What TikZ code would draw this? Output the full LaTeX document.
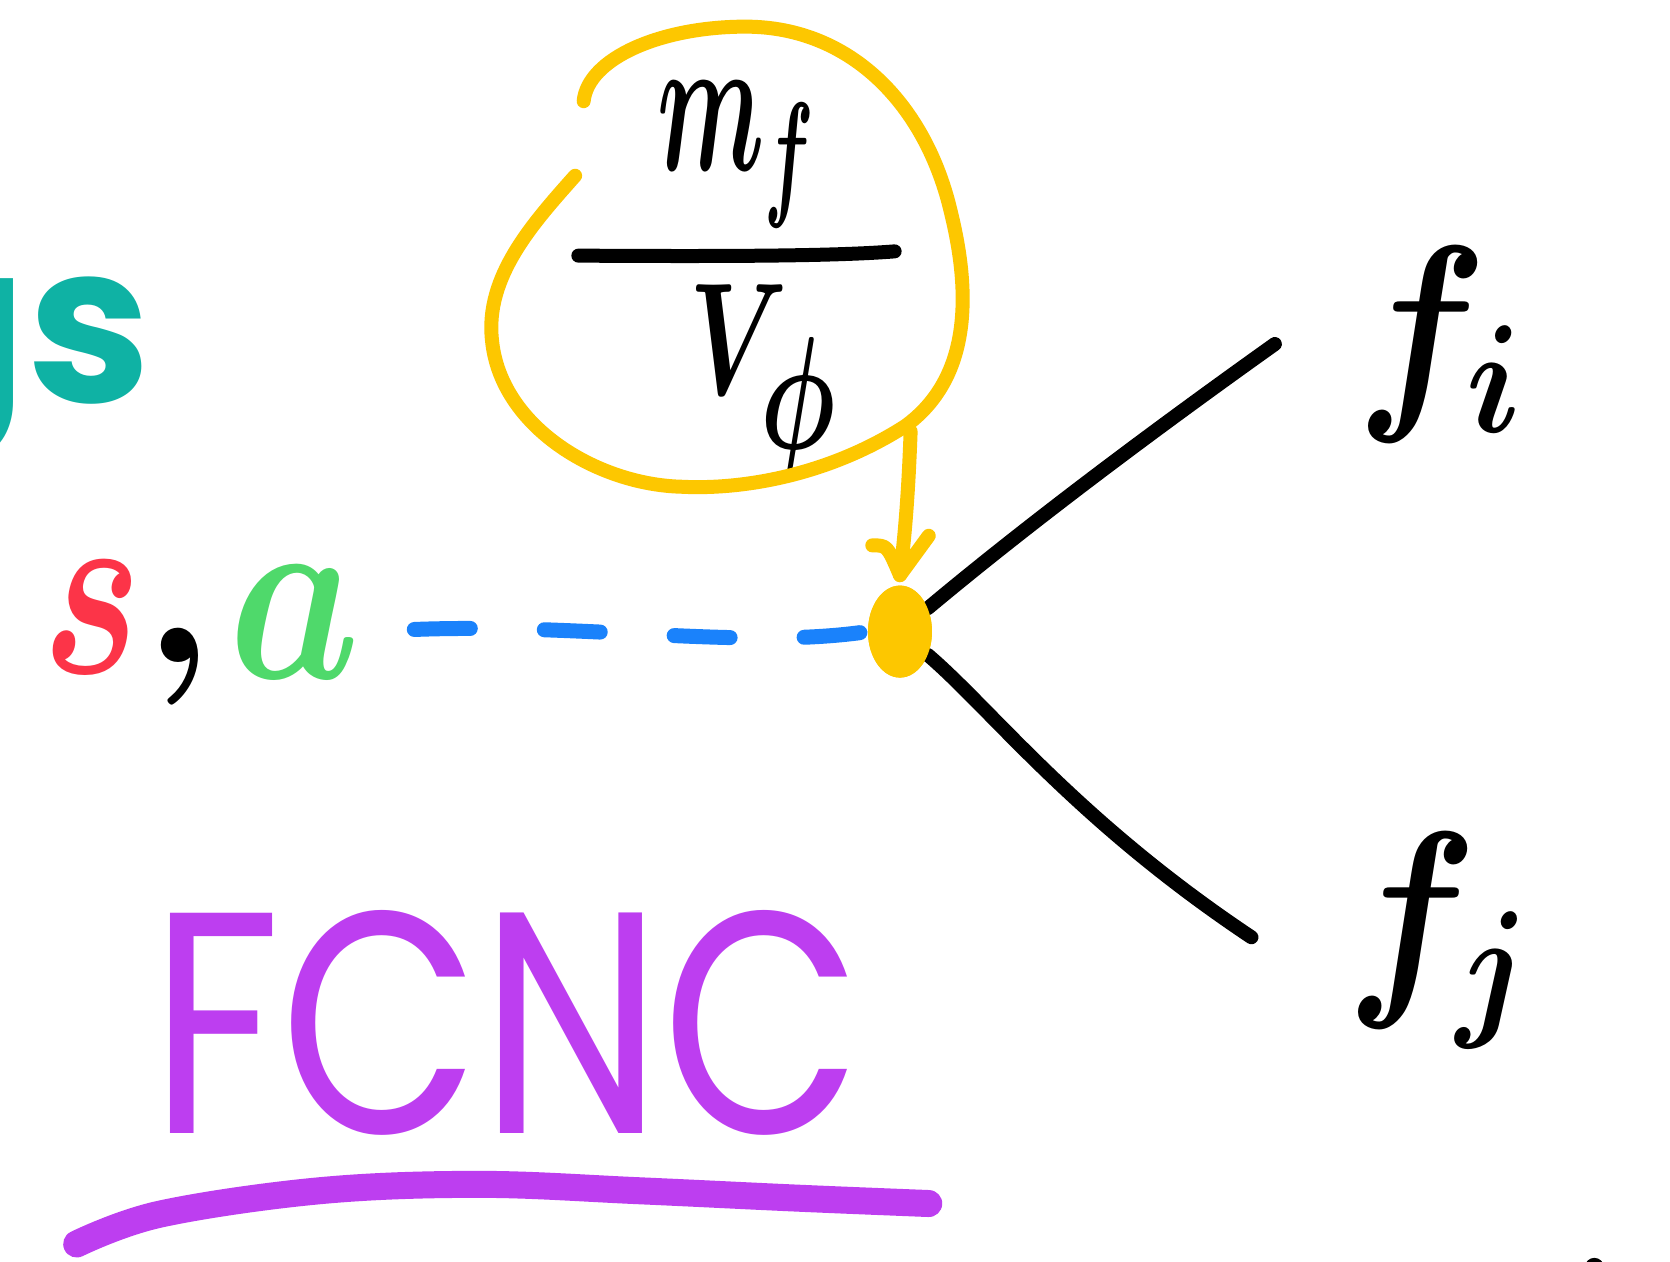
\RequirePackage{fix-cm}
\documentclass[tikz,border=0pt]{standalone}
\usepackage{graphicx}
\usepackage{fontspec}
\usetikzlibrary{shapes.geometric,calc}
\newfontfamily\handfont{Poppins}
\newfontfamily\logofont{Poppins}

\definecolor{hiyellow}{RGB}{253,199,0}
\definecolor{hiblue}{RGB}{26,130,251}
\definecolor{hired}{RGB}{252,52,72}
\definecolor{higreen}{RGB}{79,217,107}
\definecolor{hipurple}{RGB}{189,62,240}
\definecolor{logoteal}{RGB}{15,178,164}

\tikzset{
  txt/.style={inner sep=0pt, outer sep=0pt},
  inkline/.style={draw=black, line width=7pt, line cap=round, line join=round},
  loopline/.style={draw=hiyellow, line width=7pt, line cap=round, line join=round},
  scalarline/.style={draw=hiblue, line width=7.5pt, line cap=round, dash pattern=on 28pt off 37pt},
  vertexdot/.style={ellipse, fill=hiyellow, minimum width=32pt, minimum height=46pt, inner sep=0pt},
  crayon/.style={draw=hipurple, line width=13.5pt, line cap=round, line join=round},
  hand/.style={font=\boldmath\fontsize{#1}{#1}\selectfont},
}

\begin{document}
\begin{tikzpicture}[x=0.5325pt, y=-0.5325pt]
  \clip (0,0) rectangle (1568,1184);
  \fill[white] (0,0) rectangle (1568,1184);

  % logo fragment at the left edge
  \node[txt, anchor=base east, text=logoteal,
        font=\logofont\bfseries\fontsize{111}{111}\selectfont] (logo) at (142,378) {gs};

  % coupling m_f / v_phi, circled
  \node[txt, anchor=base west, hand=100] (num) at (617,160)
        {\scalebox{0.52}[1]{$m_f$}};
  \draw[inkline] (543,240) .. controls (700,241) and (790,240) .. (840,236);
  \node[txt, anchor=base west, hand=80] (den) at (647,370)
        {\scalebox{0.66}[1]{$V_{\textstyle\phi}$}};
  \draw[loopline] (548,95) .. controls (552,55) and (620,25) .. (700,25)
    .. controls (800,25) and (870,100) .. (893,200)
    .. controls (915,290) and (905,360) .. (850,400)
    .. controls (780,445) and (700,460) .. (640,457)
    .. controls (560,455) and (470,400) .. (462,320)
    .. controls (455,260) and (500,210) .. (540,165);

  % vertex
  \node[vertexdot] (v) at (845,593) {};

  % arrow from the coupling to the vertex
  \coordinate (atail) at (855,405);
  \coordinate (tip) at ([yshift=5pt]v.north);
  \draw[loopline] (atail) .. controls (853,460) and (850,500) .. (tip);
  \draw[loopline] ($(tip)+(-26,-28)$) .. controls ($(tip)+(-12,-28)$) .. (tip)
                  -- ($(tip)+(27,-37)$);

  % incoming scalar
  \node[txt, anchor=base west, text=hired, hand=110] (s) at (40,632)
        {\scalebox{0.85}[1.15]{$s$}};
  \node[txt, anchor=base, hand=110] (comma) at (168,622) {$,$};
  \node[txt, anchor=base west, text=higreen, hand=110] (a) at (215,637)
        {\scalebox{0.95}[1.15]{$a$}};
  \coordinate (sastart) at (389,591);
  \draw[scalarline] (sastart) .. controls (550,585) and (700,610) .. (v.west);

  % outgoing fermions
  \node[txt, anchor=base west, hand=110] (fi) at (1274,375) {\scalebox{0.88}[1]{$f_i$}};
  \node[txt, anchor=base west, hand=110] (fj) at (1264,925) {\scalebox{0.88}[1]{$f_j$}};
  \coordinate (fiend) at (1197,323);
  \coordinate (fjend) at (1175,880);
  \draw[inkline] (v.40) .. controls (980,480) and (1110,385) .. (fiend);
  \draw[inkline] (v.-40) .. controls (930,665) and (1010,770) .. (fjend);
  \node[vertexdot] at (v) {};

  % label with underline
  \node[txt, anchor=base west, text=hipurple,
        font=\handfont\fontsize{158}{158}\selectfont] (fcnc) at (141,1064)
        {\scalebox{0.82}[1]{FCNC}};
  \draw[crayon] plot[smooth, tension=0.6] coordinates {
    (72,1168) (150,1140) (300,1118) (450,1112) (600,1118) (750,1125) (872,1130)};

  % stray mark at the lower edge
  \fill (1497,1190) circle (9);
\end{tikzpicture}
\end{document}
